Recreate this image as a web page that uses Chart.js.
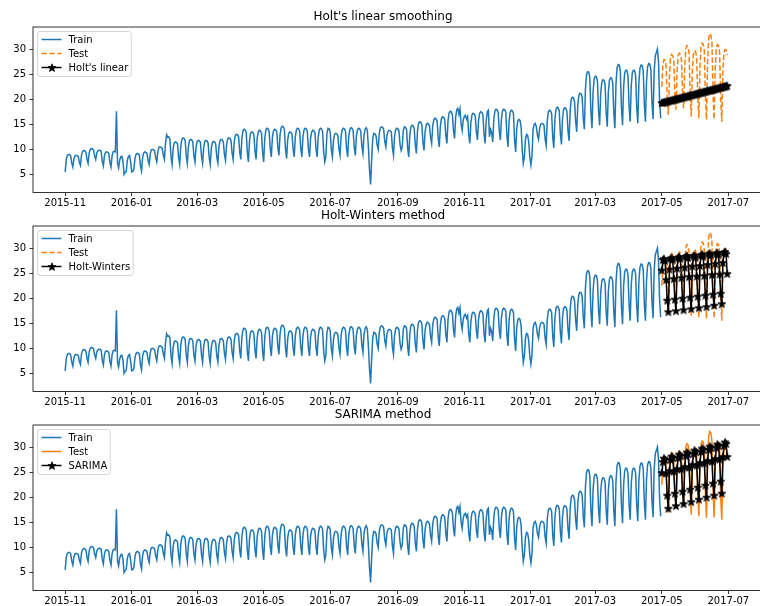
<!DOCTYPE html>
<html>
<head>
<meta charset="utf-8">
<script src="https://cdn.jsdelivr.net/npm/chart.js@4.4.1/dist/chart.umd.min.js"></script>
<style>
html, body { margin: 0; padding: 0; background: #fff; overflow: hidden; width: 760px; height: 606px; }
canvas { position: absolute; left: 0; }
</style>
</head>
<body>
<canvas id="c1" width="766" height="212" style="top:0px"></canvas>
<canvas id="c2" width="766" height="212" style="top:199px"></canvas>
<canvas id="c3" width="766" height="212" style="top:398px"></canvas>
<script>
// daily values, first day 2015-11-01 (a Sunday), one week per row
const startDate = '2015-11-01';
const train = [
  5.5, 8.0, 8.8, 9.0, 9.0, 8.7, 7.3,
  6.5, 8.1, 8.7, 8.8, 8.7, 8.6, 7.4,
  6.8, 8.9, 9.6, 9.8, 9.7, 9.5, 8.0,
  7.2, 9.3, 10.0, 10.2, 10.1, 9.9, 8.7,
  8.0, 9.3, 9.7, 9.8, 9.8, 9.6, 7.6,
  6.7, 8.7, 9.4, 9.5, 9.4, 9.2, 7.4,
  6.5, 8.7, 9.5, 9.6, 9.5, 17.6, 7.2,
  6.3, 7.9, 8.5, 8.6, 7.6, 5.0, 5.4,
  5.6, 7.8, 8.6, 8.8, 7.5, 5.5, 5.6,
  6.0, 8.2, 9.0, 9.2, 9.1, 8.9, 6.7,
  5.7, 8.4, 9.3, 9.5, 9.4, 9.2, 7.8,
  7.0, 9.1, 9.9, 10.0, 9.9, 9.7, 8.3,
  7.5, 9.6, 10.4, 10.5, 10.4, 10.2, 8.8,
  8.0, 11.2, 12.9, 12.4, 12.5, 12.1, 8.6,
  7.0, 10.2, 11.3, 11.5, 11.4, 11.1, 8.4,
  7.0, 10.7, 12.0, 12.3, 12.2, 11.8, 8.7,
  7.2, 10.6, 11.8, 12.0, 11.9, 11.5, 8.7,
  7.5, 10.5, 11.6, 11.8, 11.7, 11.4, 8.6,
  7.2, 10.4, 11.6, 11.8, 11.7, 11.3, 8.4,
  7.0, 10.2, 11.4, 11.6, 11.5, 11.1, 8.5,
  7.3, 10.6, 11.8, 12.0, 11.9, 11.5, 9.0,
  7.8, 10.9, 12.1, 12.3, 12.2, 11.8, 9.3,
  8.0, 11.5, 12.8, 13.0, 12.9, 12.5, 9.5,
  8.0, 12.2, 13.7, 14.0, 13.9, 13.4, 9.4,
  7.5, 11.7, 13.2, 13.5, 13.4, 12.9, 9.7,
  8.0, 12.1, 13.5, 13.8, 13.7, 13.2, 9.4,
  7.5, 12.2, 13.9, 14.2, 14.1, 13.5, 10.2,
  8.5, 12.4, 13.7, 14.0, 13.9, 13.5, 10.4,
  8.8, 12.9, 14.3, 14.6, 14.5, 14.0, 10.0,
  8.2, 11.9, 13.2, 13.5, 13.4, 13.0, 10.0,
  8.5, 12.5, 13.9, 14.2, 14.1, 13.6, 10.2,
  8.5, 12.5, 13.9, 14.2, 14.1, 13.6, 10.1,
  8.5, 12.2, 13.5, 13.8, 13.7, 13.3, 10.1,
  8.5, 12.5, 13.9, 14.2, 14.1, 13.6, 9.5,
  7.5, 8.5, 13.2, 14.2, 14.1, 13.5, 10.0,
  8.5, 11.8, 13.0, 13.2, 13.1, 12.7, 10.1,
  8.8, 12.6, 13.9, 14.2, 14.1, 13.6, 10.2,
  8.5, 12.6, 14.0, 14.3, 14.2, 13.7, 10.4,
  8.8, 12.6, 13.9, 14.2, 14.1, 13.6, 10.7,
  9.2, 12.8, 14.0, 14.3, 13.8, 10.5, 6.0,
  3.0, 8.0, 12.2, 13.2, 13.1, 12.7, 10.9,
  10.0, 13.2, 14.3, 14.5, 14.4, 14.0, 11.6,
  10.5, 12.8, 13.6, 13.8, 13.7, 13.5, 10.3,
  8.8, 12.6, 13.9, 14.2, 14.1, 13.7, 11.0,
  9.8, 10.5, 13.8, 14.5, 14.4, 14.0, 10.3,
  8.5, 12.9, 14.5, 14.8, 14.7, 14.2, 10.9,
  9.2, 13.6, 15.2, 15.5, 15.4, 14.9, 11.5,
  9.8, 13.6, 14.9, 15.2, 15.1, 14.7, 12.4,
  11.2, 14.7, 15.9, 16.2, 16.1, 15.7, 12.2,
  10.5, 14.7, 16.2, 16.5, 16.4, 15.9, 12.8,
  11.2, 15.7, 17.3, 17.6, 17.5, 16.9, 13.8,
  12.2, 16.4, 17.9, 18.2, 17.0, 18.1, 15.1,
  13.8, 15.9, 16.6, 16.8, 16.0, 16.5, 12.9,
  11.2, 15.4, 16.9, 17.2, 17.1, 16.6, 13.5,
  11.9, 15.8, 17.2, 17.5, 17.4, 16.9, 13.1,
  11.2, 15.6, 17.5, 17.8, 12.5, 14.0, 13.4,
  11.5, 16.0, 17.7, 18.0, 17.9, 17.4, 13.7,
  11.9, 16.1, 17.7, 18.0, 17.9, 17.4, 12.7,
  10.5, 15.6, 17.4, 17.8, 17.7, 17.1, 11.9,
  9.5, 14.1, 15.7, 16.0, 15.8, 14.5, 10.0,
  7.2, 8.5, 12.0, 13.0, 12.8, 11.5, 8.5,
  6.9, 8.8, 14.0, 15.0, 15.2, 14.5, 12.8,
  12.0, 14.2, 15.0, 15.2, 15.1, 14.8, 12.1,
  10.8, 15.7, 17.5, 17.8, 17.7, 17.1, 12.5,
  10.3, 16.0, 18.0, 18.4, 18.3, 17.6, 13.2,
  11.0, 16.2, 18.0, 18.3, 18.2, 17.6, 13.7,
  11.7, 17.8, 20.0, 20.4, 20.3, 19.5, 15.6,
  13.5, 18.9, 20.8, 21.2, 21.1, 20.4, 16.2,
  14.0, 22.1, 25.0, 25.5, 25.4, 24.3, 17.5,
  14.2, 21.5, 24.1, 24.6, 24.5, 23.6, 17.7,
  14.8, 21.2, 23.4, 23.9, 23.8, 23.0, 17.3,
  14.5, 21.4, 23.8, 24.3, 24.2, 23.3, 17.3,
  14.2, 23.1, 26.3, 26.9, 26.8, 25.6, 18.4,
  14.8, 22.5, 25.3, 25.8, 25.7, 24.7, 18.6,
  15.5, 22.7, 25.3, 25.8, 25.7, 24.8, 18.4,
  15.2, 23.3, 26.2, 26.8, 26.7, 25.6, 18.9,
  15.5, 23.6, 26.5, 27.1, 27.0, 25.9, 19.3,
  16.0, 25.5, 28.6, 29.3, 30.0, 27.5, 19.6,
  16.2
];

// 2017-05-01 .. 2017-06-30
const test = [
        22.5, 27.0, 27.9, 27.8, 26.6, 20.0,
  16.9, 24.5, 28.3, 28.9, 28.7, 27.6, 21.0,
  17.9, 25.5, 28.7, 29.2, 29.0, 28.0, 21.5,
  18.2, 26.5, 30.0, 30.7, 30.5, 29.2, 21.0,
  16.5, 25.7, 29.0, 29.7, 29.5, 28.3, 20.5,
  16.2, 26.5, 30.5, 31.2, 31.0, 29.6, 20.5,
  15.9, 27.5, 32.2, 33.1, 32.8, 31.2, 21.0,
  16.0, 26.2, 30.2, 30.9, 30.7, 29.3, 20.0,
  15.5, 25.5, 29.3, 29.9, 29.8, 28.8
];

const holtLinear = [
  19.20, 19.26, 19.31, 19.37, 19.43, 19.48, 19.54, 19.60, 19.65, 19.71,
  19.77, 19.82, 19.88, 19.94, 19.99, 20.05, 20.11, 20.16, 20.22, 20.28,
  20.33, 20.39, 20.45, 20.50, 20.56, 20.62, 20.67, 20.73, 20.79, 20.84,
  20.90, 20.96, 21.01, 21.07, 21.13, 21.18, 21.24, 21.30, 21.35, 21.41,
  21.47, 21.52, 21.58, 21.64, 21.69, 21.75, 21.81, 21.86, 21.92, 21.98,
  22.03, 22.09, 22.15, 22.20, 22.26, 22.32, 22.37, 22.43, 22.49, 22.54,
  22.60
];

const holtWinters = [
        25.5, 27.6, 27.8, 27.4, 23.6, 19.5,
  17.2, 25.7, 27.8, 28.0, 27.6, 23.8, 19.7,
  17.4, 25.9, 28.0, 28.2, 27.8, 24.0, 19.9,
  17.6, 26.1, 28.2, 28.4, 28.0, 24.2, 20.1,
  17.8, 26.3, 28.3, 28.5, 28.1, 24.3, 20.3,
  18.0, 26.4, 28.5, 28.7, 28.3, 24.4, 20.5,
  18.2, 26.6, 28.7, 28.9, 28.5, 24.6, 20.7,
  18.5, 26.8, 28.8, 29.0, 28.6, 24.7, 20.9,
  18.8, 27.0, 29.0, 29.2, 28.8, 24.8
];

const sarima = [
        24.8, 27.0, 27.7, 27.4, 24.7, 20.3,
  17.7, 25.2, 27.4, 28.1, 27.8, 25.1, 20.7,
  18.2, 25.6, 27.8, 28.5, 28.2, 25.5, 21.1,
  18.6, 26.0, 28.2, 28.9, 28.6, 25.9, 21.5,
  19.0, 26.4, 28.6, 29.3, 29.0, 26.3, 21.9,
  19.5, 26.8, 29.0, 29.7, 29.4, 26.7, 22.3,
  19.9, 27.2, 29.4, 30.1, 29.8, 27.1, 22.7,
  20.3, 27.6, 29.8, 30.5, 30.2, 27.5, 23.1,
  20.7, 28.0, 30.2, 30.9, 30.6, 28.0
];

const xTickLabels = ['2015-11', '2016-01', '2016-03', '2016-05', '2016-07', '2016-09',
                     '2016-11', '2017-01', '2017-03', '2017-05', '2017-07'];
const yTicks = [5, 10, 15, 20, 25, 30];

const FONT = 'DejaVu Sans';

function dayOf(s) {
  const p = s.split('-').map(Number);
  const q = startDate.split('-').map(Number);
  return Math.round((Date.UTC(p[0], p[1] - 1, p[2] || 1) - Date.UTC(q[0], q[1] - 1, q[2])) / 86400000);
}
const xTickDays = xTickLabels.map(dayOf);

// matplotlib-like filled star marker
function makeStar(r) {
  const c = document.createElement('canvas');
  const s = Math.ceil(r * 2) + 3;
  c.width = s; c.height = s;
  const g = c.getContext('2d');
  g.fillStyle = '#000';
  g.strokeStyle = '#000';
  g.lineWidth = 0.8;
  g.lineJoin = 'miter';
  g.beginPath();
  for (let i = 0; i < 10; i++) {
    const rr = i % 2 ? r * 0.42 : r;
    const a = -Math.PI / 2 + i * Math.PI / 5;
    g.lineTo(s / 2 + rr * Math.cos(a), s / 2 + rr * Math.sin(a));
  }
  g.closePath();
  g.fill();
  g.stroke();
  return c;
}
const star = makeStar(4.2);

// box around the plot area
const frame = {
  id: 'frame',
  afterDatasetsDraw(chart) {
    const a = chart.chartArea, ctx = chart.ctx;
    ctx.save();
    ctx.strokeStyle = '#000';
    ctx.lineWidth = 0.8;
    ctx.strokeRect(a.left, a.top, a.right - a.left, a.bottom - a.top);
    ctx.restore();
  }
};

// legend in the upper left corner, inside the axes
const boxLegend = {
  id: 'boxLegend',
  afterDraw(chart) {
    const ctx = chart.ctx, a = chart.chartArea;
    const sets = chart.data.datasets;
    ctx.save();
    ctx.font = '10px "' + FONT + '"';
    let tw = 0;
    sets.forEach(d => { tw = Math.max(tw, ctx.measureText(d.label).width); });
    const x0 = a.left + 4.5, y0 = a.top + 4.5;
    const w = 31 + tw + 3, h = 45;
    ctx.beginPath();
    ctx.roundRect(x0, y0, w, h, 2.5);
    ctx.fillStyle = 'rgba(255,255,255,0.8)';
    ctx.fill();
    ctx.strokeStyle = 'rgba(204,204,204,0.8)';
    ctx.lineWidth = 1;
    ctx.stroke();
    sets.forEach((d, i) => {
      const yy = y0 + 8 + i * 14;
      ctx.beginPath();
      ctx.setLineDash(d.borderDash || []);
      ctx.strokeStyle = d.borderColor;
      ctx.lineWidth = 1.5;
      ctx.moveTo(x0 + 4, yy);
      ctx.lineTo(x0 + 24, yy);
      ctx.stroke();
      ctx.setLineDash([]);
      if (d.pointStyle instanceof HTMLCanvasElement) {
        ctx.drawImage(d.pointStyle, Math.round(x0 + 14 - d.pointStyle.width / 2), Math.round(yy - d.pointStyle.height / 2));
      }
      ctx.fillStyle = '#000';
      ctx.textBaseline = 'middle';
      ctx.fillText(d.label, x0 + 31, yy + 0.5);
    });
    ctx.restore();
  }
};

function createPanel(canvasId, title, testDashed, fcLabel, fcValues) {
  const ctx = document.getElementById(canvasId).getContext('2d');
  const n = train.length;
  return new Chart(ctx, {
    type: 'line',
    data: {
      datasets: [{
        label: 'Train',
        data: train.map((v, i) => ({ x: i, y: v })),
        borderColor: '#1f77b4',
        borderWidth: 1.5,
        pointRadius: 0,
        order: 3
      }, {
        label: 'Test',
        data: test.map((v, i) => ({ x: n + i, y: v })),
        borderColor: '#ff7f0e',
        borderWidth: 1.5,
        borderDash: testDashed ? [5.5, 2.4] : [],
        pointRadius: 0,
        order: 2
      }, {
        label: fcLabel,
        data: fcValues.map((v, i) => ({ x: n + i, y: v })),
        borderColor: '#000',
        borderWidth: 1.5,
        pointStyle: star,
        pointRadius: 4,
        order: 1
      }]
    },
    options: {
      responsive: false,
      animation: false,
      devicePixelRatio: 1,
      events: [],
      layout: { padding: 0 },
      plugins: {
        legend: { display: false },
        tooltip: { enabled: false },
        title: {
          display: true,
          text: title,
          color: '#000',
          font: { family: FONT, size: 12, weight: 'normal' },
          padding: { top: 10, bottom: 2.6 }
        }
      },
      scales: {
        x: {
          type: 'linear',
          min: -29.5,
          max: 637.5,
          afterBuildTicks: s => { s.ticks = xTickDays.map(v => ({ value: v })); },
          afterFit: s => { s.height = 19.5; },
          border: { display: false },
          grid: { display: true, drawOnChartArea: false, drawTicks: true, tickLength: 3.5, color: '#000', lineWidth: 0.8 },
          ticks: {
            autoSkip: false,
            maxRotation: 0,
            padding: 1,
            color: '#000',
            font: { family: FONT, size: 10 },
            callback: (v, i) => xTickLabels[i]
          }
        },
        y: {
          min: 1.4,
          max: 34.4,
          afterBuildTicks: s => { s.ticks = yTicks.map(v => ({ value: v })); },
          afterFit: s => { s.width = 33; },
          border: { display: false },
          grid: { display: true, drawOnChartArea: false, drawTicks: true, tickLength: 3.5, color: '#000', lineWidth: 0.8 },
          ticks: {
            padding: 3.5,
            color: '#000',
            font: { family: FONT, size: 10 }
          }
        }
      }
    },
    plugins: [frame, boxLegend]
  });
}

createPanel('c1', "Holt's linear smoothing", true, "Holt's linear", holtLinear);
createPanel('c2', 'Holt-Winters method', true, 'Holt-Winters', holtWinters);
createPanel('c3', 'SARIMA method', false, 'SARIMA', sarima);
</script>
</body>
</html>
